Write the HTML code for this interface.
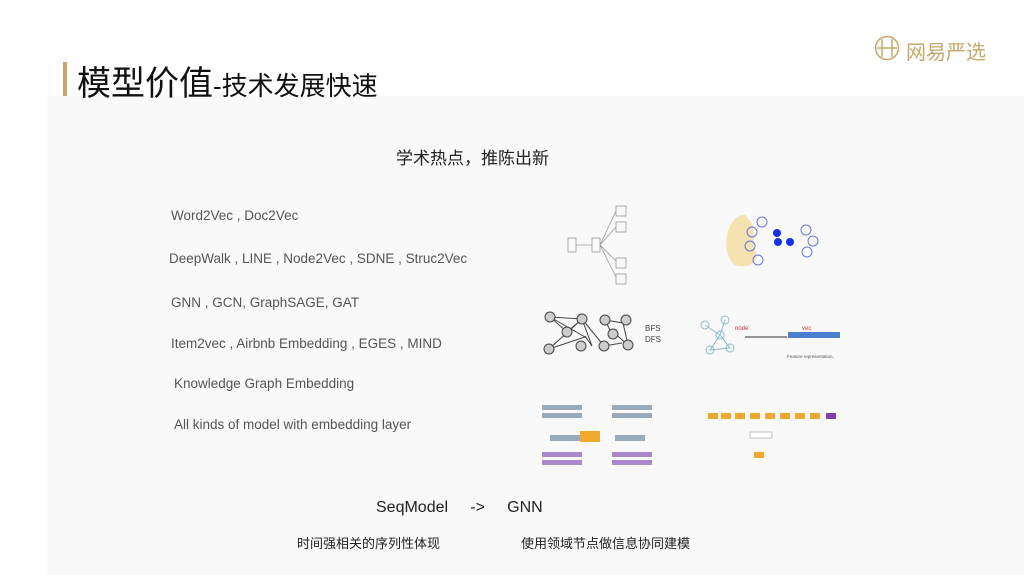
<!DOCTYPE html>
<html><head><meta charset="utf-8"><style>
body{margin:0;width:1024px;height:575px;background:#fff;position:relative;overflow:hidden;font-family:"Liberation Sans","Noto Sans CJK SC",sans-serif}
.bg{position:absolute;left:47px;top:96px;width:977px;height:479px;background:#f9f9f9}
.t{position:absolute;white-space:nowrap}
.li{position:absolute;left:171px;font-size:13.5px;color:#555}
</style></head><body>
<div class="bg"></div>
<div class="t" style="left:63px;top:62px;width:4px;height:34px;background:#c8a56a"></div>
<div class="t" style="left:77px;top:56px;font-size:34px;color:#111;letter-spacing:0px">模型价值<span style="font-size:26px">-技术发展快速</span></div>
<svg class="t" style="left:874px;top:34px" width="120" height="30"><circle cx="13" cy="14" r="11.5" fill="none" stroke="#c8a56a" stroke-width="1.5"/><path d="M8 5v18M18 5v18M3 14h20" stroke="#c8a56a" stroke-width="1.5"/></svg>
<div class="t" style="left:906px;top:36px;font-size:20px;color:#c8a56a">网易严选</div>
<div class="t" style="left:396px;top:144px;font-size:17px;color:#222">学术热点，推陈出新</div>
<div class="li" style="top:208px">Word2Vec , Doc2Vec</div>
<div class="li" style="top:251px;left:169px">DeepWalk , LINE , Node2Vec , SDNE , Struc2Vec</div>
<div class="li" style="top:295px">GNN ,  GCN,  GraphSAGE, GAT</div>
<div class="li" style="top:336px">Item2vec , Airbnb Embedding , EGES , MIND</div>
<div class="li" style="top:376px;left:174px">Knowledge Graph Embedding</div>
<div class="li" style="top:417px;left:174px">All kinds of model with embedding layer</div>
<svg class="t" style="left:530px;top:180px" width="340" height="290">
<g stroke="#999" fill="none" stroke-width="0.8">
<rect x="38" y="58" width="8" height="14"/><rect x="62" y="58" width="8" height="14"/><path d="M46 65h16M70 65l16-34M70 65l16-18M70 65l16 16M70 65l16 32"/>
<rect x="86" y="26" width="10" height="10"/><rect x="86" y="42" width="10" height="10"/><rect x="86" y="78" width="10" height="10"/><rect x="86" y="94" width="10" height="10"/></g>
<path d="M215 35c-20 0-25 40-10 50 15 5 25-5 20-15-5-15 5-20-10-35z" fill="#f5e2b0"/>
<g fill="none" stroke="#6677dd"><circle cx="222" cy="52" r="5"/><circle cx="220" cy="66" r="5"/><circle cx="228" cy="80" r="5"/><circle cx="232" cy="42" r="5"/><circle cx="276" cy="50" r="5"/><circle cx="283" cy="61" r="5"/><circle cx="277" cy="72" r="5"/></g>
<g fill="#1133ee"><circle cx="247" cy="53" r="4"/><circle cx="248" cy="62" r="4"/><circle cx="260" cy="62" r="4"/></g>
<g stroke="#444" fill="#ccc" stroke-width="1"><path d="M20 137l32 2 -33 30 36-12 -35-20M20 137l17 15 15-13 10 27 -7-10M52 139l22 27 18-3M75 140l18 3 5 22 -15-13M75 140l6 12" fill="none"/>
<circle cx="20" cy="137" r="5"/><circle cx="52" cy="139" r="5"/><circle cx="37" cy="152" r="5"/><circle cx="19" cy="169" r="5"/><circle cx="51" cy="166" r="5"/><circle cx="74" cy="166" r="5"/><circle cx="75" cy="140" r="5"/><circle cx="96" cy="140" r="5"/><circle cx="83" cy="154" r="5"/><circle cx="98" cy="165" r="5"/></g>
<text x="115" y="151" font-size="8" fill="#444">BFS</text><text x="115" y="162" font-size="8" fill="#444">DFS</text>
<g stroke="#8bc" fill="none"><circle cx="175" cy="145" r="4"/><circle cx="190" cy="155" r="4"/><circle cx="180" cy="170" r="4"/><circle cx="200" cy="168" r="4"/><circle cx="195" cy="140" r="4"/><path d="M175 145l15 10-10 15 20-2-10-13 5-15"/></g>
<text x="205" y="150" font-size="6" fill="#c33">node</text><text x="272" y="150" font-size="6" fill="#c33">vec</text>
<path d="M215 157h42" stroke="#333"/><rect x="258" y="152" width="52" height="6" fill="#4a7fd0"/>
<text x="257" y="178" font-size="4.5" fill="#555">Feature representation,</text>
<g fill="#9ab"><rect x="12" y="225" width="40" height="5"/><rect x="12" y="233" width="40" height="5"/><rect x="82" y="225" width="40" height="5"/><rect x="82" y="233" width="40" height="5"/><rect x="20" y="255" width="30" height="6"/><rect x="85" y="255" width="30" height="6"/></g>
<rect x="50" y="251" width="20" height="11" fill="#f0a830"/>
<g fill="#a8c"><rect x="12" y="272" width="40" height="5"/><rect x="12" y="280" width="40" height="5"/><rect x="82" y="272" width="40" height="5"/><rect x="82" y="280" width="40" height="5"/></g>
<g fill="#f0a830"><rect x="178" y="233" width="10" height="6"/><rect x="191" y="233" width="10" height="6"/><rect x="205" y="233" width="10" height="6"/><rect x="220" y="233" width="10" height="6"/><rect x="235" y="233" width="10" height="6"/><rect x="250" y="233" width="10" height="6"/><rect x="265" y="233" width="10" height="6"/><rect x="280" y="233" width="10" height="6"/><rect x="224" y="272" width="10" height="6"/></g>
<rect x="296" y="233" width="10" height="6" fill="#8040b0"/><rect x="220" y="252" width="22" height="6" fill="#fff" stroke="#888" stroke-width="0.5"/>
</svg>
<div class="t" style="left:376px;top:499px;font-size:16px;color:#222">SeqModel&nbsp;&nbsp;&nbsp;&nbsp;&nbsp;-&gt;&nbsp;&nbsp;&nbsp;&nbsp;&nbsp;GNN</div>
<div class="t" style="left:297px;top:533px;font-size:13px;color:#222">时间强相关的序列性体现</div>
<div class="t" style="left:521px;top:533px;font-size:13px;color:#222">使用领域节点做信息协同建模</div>
</body></html>
